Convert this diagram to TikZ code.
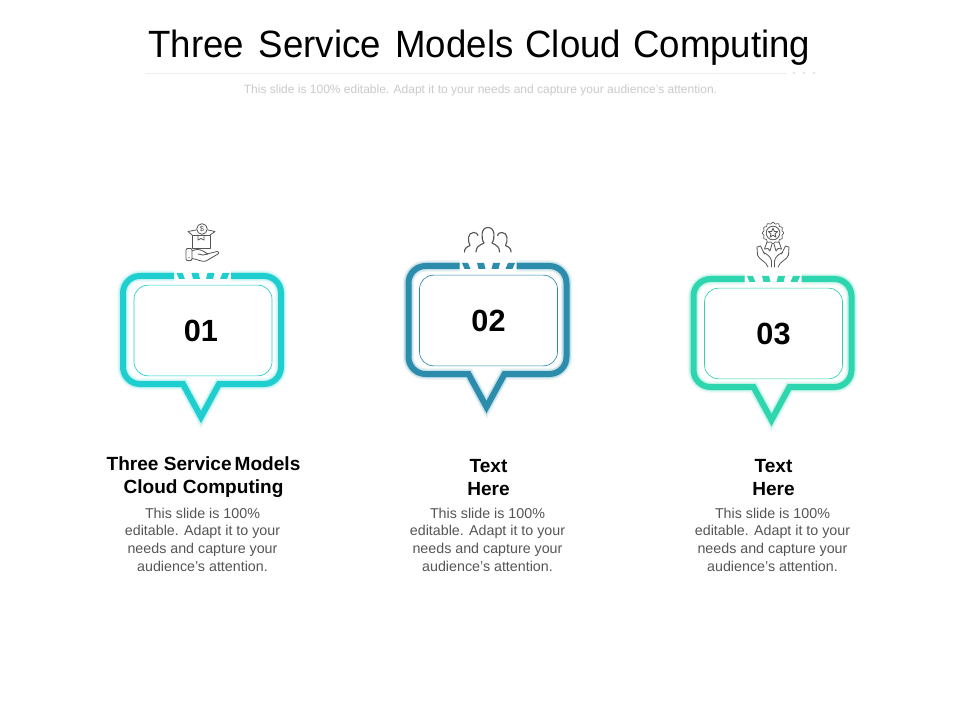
\documentclass[tikz,border=0pt]{standalone}
\usepackage{fontspec}
\setmainfont{Liberation Sans}
\definecolor{tealA}{HTML}{1FCFCF}
\definecolor{blueB}{HTML}{2C8CAB}
\definecolor{greenC}{HTML}{2DD6AE}
\definecolor{iconline}{HTML}{555555}
\definecolor{subgray}{HTML}{CACACA}
\definecolor{bodygray}{HTML}{555555}
\tikzset{
  x=0.75pt,y=-0.75pt,
  framestroke/.style={line width=4.5pt,line join=miter},
  glowwide/.style={line width=8.5pt,line join=miter,opacity=.10},
  glowmid/.style={line width=6.5pt,line join=miter,opacity=.18},
  cardbox/.style={draw,line width=.5pt,rounded corners=10.5pt,minimum width=103.5pt,minimum height=68pt,inner sep=0pt,font=\bfseries\fontsize{23}{26}\selectfont,text=black},
  headtext/.style={align=center,font=\bfseries\fontsize{14.3}{17.3}\selectfont,text=black,inner sep=0pt},
  bodytext/.style={align=center,font=\fontsize{10.7}{13.2}\selectfont,text=bodygray,inner sep=0pt},
  iconstroke/.style={draw=iconline,line width=.6pt,line join=round,line cap=round,fill=none},
}
\newcommand{\framepath}{(174,276) -- (140,276) .. controls (130.6,276) and (123,283.6) .. (123,293) -- (123,367) .. controls (123,376.4) and (130.6,384) .. (140,384) -- (183,384) -- (201,417) -- (219,384) -- (264,384) .. controls (273.4,384) and (281,376.4) .. (281,367) -- (281,293) .. controls (281,283.6) and (273.4,276) .. (264,276) -- (231,276)}
\newcommand{\bubble}[5]{% dx, dy, colour, number, name
  \begin{scope}[shift={(#1,#2)}]
    \foreach \sty in {glowwide,glowmid}{
      \draw[\sty,draw=#3] \framepath;
    }
    \draw[framestroke,draw=#3] \framepath;
    \fill[#3] (176.5,273) -- (182.5,273) -- (185,279) -- (179,279) -- cycle;
    \fill[#3] (191.5,273) -- (198.5,273) -- (200,279) -- (193,279) -- cycle;
    \fill[#3] (207.5,273) -- (214.5,273) -- (213,279) -- (206,279) -- cycle;
    \fill[#3] (222.5,273) -- (229.5,273) -- (227,279) -- (220,279) -- cycle;
    \node[cardbox,draw=#3] (#5) at (203,330.5) {#4};
  \end{scope}
}
\begin{document}
\begin{tikzpicture}
\useasboundingbox (0,0) rectangle (960,720);
\fill[white] (0,0) rectangle (960,720);
% header
\node[inner sep=0pt,font=\fontsize{28.5}{32}\selectfont,text=black] (title) at (479.5,48) {\scalebox{.964}[1]{Three\hspace{.12em} Service\hspace{.12em} Models\hspace{.05em} Cloud\hspace{.05em} Computing}};
\coordinate (ruleL) at (145,73);
\coordinate (ruleR) at (787,73);
\draw[black!7,line width=.6pt] (ruleL) -- (ruleR);
\foreach \px in {794,804,814}{\fill[black!10] (\px,73) circle (1.3);}
\node[inner sep=0pt,font=\fontsize{9}{11}\selectfont,text=subgray] (subtitle) at (480.5,90) {This slide is 100\% editable. Adapt it to your needs and capture your audience’s attention.};
% callouts
\bubble{0}{0}{tealA}{\hspace*{-3pt}01}{cardA}
\bubble{285.5}{-10}{blueB}{02}{cardB}
\bubble{570.5}{3}{greenC}{03}{cardC}
% icon 1: coin, box, hand
\draw[iconstroke] (202,229) circle (5.3);
\node[inner sep=0pt,text=iconline,font=\fontsize{5.5}{6}\selectfont] (dollar) at (202,229) {\$};
\draw[iconstroke] (192,235) -- (210,235) -- (210,248) -- (192,248) -- cycle;
\draw[iconstroke] (192,235) -- (188,231.5) -- (196,230) (210,235) -- (215,231.5) -- (208,230);
\draw[iconstroke] (198,235) -- (198,240) -- (201,238.5) -- (204,240) -- (204,235);
\draw[iconstroke] (187,248.5) -- (191,248.5) -- (192,250) -- (192,259) -- (191,260.5) -- (187,260.5) -- (186,259) -- (186,250) -- cycle;
\draw[iconstroke] (192,251) .. controls (196,249) and (199,249) .. (203,251) -- (208,254) -- (203,255) -- (198,254);
\draw[iconstroke] (207,254) -- (217,251.5) .. controls (219,251.5) and (219.5,253) .. (218,254) -- (206,261) .. controls (202,262.5) and (197,259) .. (192,258.5);
\fill[iconline] (189,257.5) circle (.6);
% icon 2: three people
\draw[iconstroke,line width=.85pt] (476,252) .. controls (476,247) and (479,245.5) .. (484,243) .. controls (481,239) and (480.5,227.5) .. (488,227.5) .. controls (495.5,227.5) and (495,239) .. (492,243) .. controls (497,245.5) and (499.5,247) .. (499.5,252);
\draw[iconstroke,line width=.85pt] (464.5,252) .. controls (464.5,248.5) and (466,247.5) .. (470,245.5) .. controls (467.5,241) and (467.5,232.5) .. (473.5,232.5) .. controls (476,232.5) and (477.5,233.5) .. (478,235.5);
\draw[iconstroke,line width=.85pt] (511,252) .. controls (511,248.5) and (509.5,247.5) .. (505.5,245.5) .. controls (508,241) and (508,232.5) .. (502,232.5) .. controls (499.5,232.5) and (498,233.5) .. (497.5,235.5);
% icon 3: medal and hands
\draw[iconstroke,line width=.5pt] plot[domain=0:360,samples=97,smooth] ({773+(10+.7*cos(12*\x))*cos(\x)},{233+(10+.7*cos(12*\x))*sin(\x)});
\draw[iconstroke] (773,233) circle (6.8);
\draw[iconstroke] (773,228.2) -- (774.3,231.4) -- (777.6,231.6) -- (775,233.8) -- (775.9,237.1) -- (773,235.3) -- (770.1,237.1) -- (771,233.8) -- (768.4,231.6) -- (771.7,231.4) -- cycle;
\draw[iconstroke] (767,242) -- (764.5,249) -- (768,248.5) -- (770,251) -- (772,244);
\draw[iconstroke] (779,242) -- (781.5,249) -- (778,248.5) -- (776,251) -- (774,244);
\draw[iconstroke] (764.5,254) -- (760.5,246) -- (757,247) -- (757.5,255) .. controls (759,260) and (766,261) .. (768,267);
\draw[iconstroke] (763.5,252.5) .. controls (767,254) and (771,257) .. (771.5,261) -- (771.5,267);
\draw[iconstroke] (781.5,254) -- (785.5,246) -- (789,247) -- (788.5,255) .. controls (787,260) and (780,261) .. (778,267);
\draw[iconstroke] (782.5,252.5) .. controls (779,254) and (775,257) .. (774.5,261) -- (774.5,267);
% headings and bodies
\node[headtext] (headA) at (203.5,477.5) {Three Service\hspace{-.12em} Models\\Cloud Computing};
\node[headtext] (headB) at (488.5,477.5) {Text\\Here};
\node[headtext] (headC) at (773.5,477.5) {Text\\Here};
\node[bodytext] (bodyA) at (202.5,539.5) {This slide is 100\%\\editable. Adapt it to your\\needs and capture your\\audience’s attention.};
\node[bodytext] (bodyB) at (487.5,539.5) {This slide is 100\%\\editable. Adapt it to your\\needs and capture your\\audience’s attention.};
\node[bodytext] (bodyC) at (772.5,539.5) {This slide is 100\%\\editable. Adapt it to your\\needs and capture your\\audience’s attention.};
\end{tikzpicture}
\end{document}
